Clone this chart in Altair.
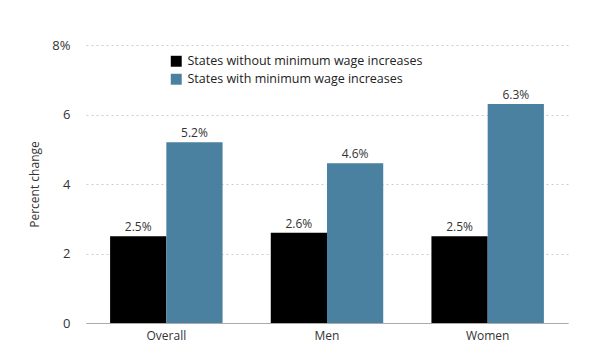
import altair as alt
import pandas as pd

categories = ["Overall", "Men", "Women"]
series = ["States without minimum wage increases", "States with minimum wage increases"]
without_vals = [2.5, 2.6, 2.5]
with_vals = [5.2, 4.6, 6.3]

rows = []
for i, c in enumerate(categories):
    rows.append({"cat": c, "series": series[0], "value": without_vals[i], "order": 0})
    rows.append({"cat": c, "series": series[1], "value": with_vals[i], "order": 1})
df = pd.DataFrame(rows)
df["label"] = df["value"].map(lambda v: f"{v:.1f}%")

font = "Open Sans"
colors = ["#000000", "#4a80a0"]

x = alt.X("cat:N", sort=categories, title=None,
          scale=alt.Scale(paddingInner=0.3, paddingOuter=0.15),
          axis=alt.Axis(labelAngle=0, labelFontSize=12, labelColor="#333333", labelFont=font,
                        domain=True, domainColor="#aaaaaa", ticks=False, labelPadding=7))
xo = alt.XOffset("series:N", sort=series)
y = alt.Y("value:Q", title="Percent change",
          scale=alt.Scale(domain=[0, 8]),
          axis=alt.Axis(values=[0, 2, 4, 6, 8], labelExpr="datum.value == 8 ? '8%' : datum.label",
                        grid=True, gridDash=[2, 3], gridColor="#cccccc", domain=False, ticks=False,
                        labelFontSize=13, labelColor="#333333", labelFont=font, labelPadding=16,
                        titleFontSize=12, titleFontWeight="normal", titleColor="#333333",
                        titleFont=font, titlePadding=10))

bars = alt.Chart(df).mark_bar().encode(
    x=x, xOffset=xo, y=y,
    color=alt.Color("series:N", sort=series,
                    scale=alt.Scale(domain=series, range=colors),
                    legend=alt.Legend(title=None, orient="none", legendX=84, legendY=10,
                                      symbolType="square", symbolSize=120, symbolStrokeWidth=0,
                                      labelFontSize=12.5, labelColor="#222222", labelFont=font,
                                      labelLimit=0, rowPadding=5, labelOffset=5)),
)

text = alt.Chart(df).mark_text(dy=-9, fontSize=12, color="#333333", font=font).encode(
    x=x, xOffset=xo, y=y, text="label:N"
)

chart = (bars + text).properties(
    width=482, height=278,
    padding={"left": 86, "top": 45, "right": 32, "bottom": 30},
    autosize=alt.AutoSizeParams(type="none"),
).configure_view(stroke=None)

chart.save("out.html", embed_options={"renderer": "svg", "actions": False})
